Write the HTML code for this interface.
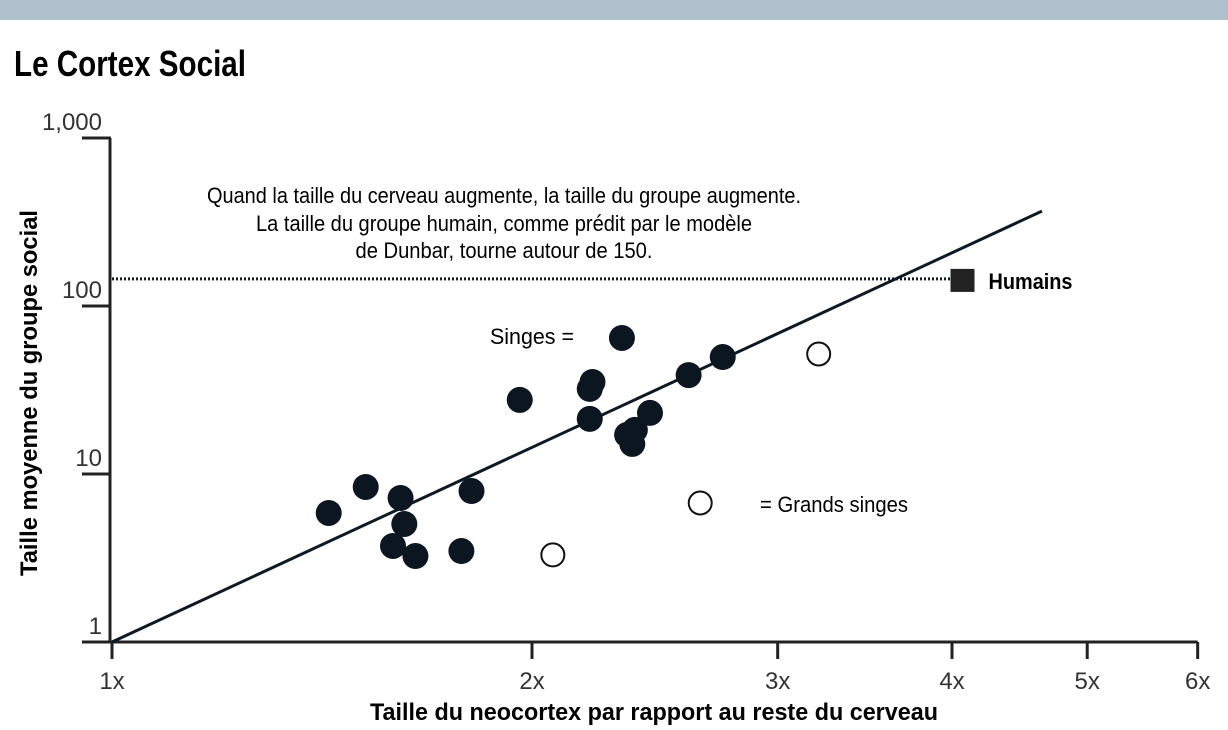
<!DOCTYPE html>
<html><head><meta charset="utf-8"><style>
body{margin:0;background:#fff;width:1228px;height:730px;overflow:hidden}
svg{display:block}
text{font-family:"Liberation Sans",sans-serif}
</style></head><body>
<svg id="chart" width="1228" height="730" viewBox="0 0 1228 730" xmlns="http://www.w3.org/2000/svg">
<rect x="0" y="0" width="1228" height="20" fill="#b0bfcc"/>
<text x="14" y="76" font-size="36" font-weight="bold" textLength="232" lengthAdjust="spacingAndGlyphs" fill="#000">Le Cortex Social</text>
<g id="annot" font-size="22" fill="#000" text-anchor="middle">
<text x="504" y="203" textLength="594" lengthAdjust="spacingAndGlyphs">Quand la taille du cerveau augmente, la taille du groupe augmente.</text>
<text x="504" y="231" textLength="496" lengthAdjust="spacingAndGlyphs">La taille du groupe humain, comme prédit par le modèle</text>
<text x="504" y="258" textLength="297" lengthAdjust="spacingAndGlyphs">de Dunbar, tourne autour de 150.</text>
</g>
<g id="axes"></g>
<g id="marks"></g>
<text x="490" y="344" font-size="22" textLength="84" lengthAdjust="spacingAndGlyphs" fill="#000">Singes =</text>
<text x="760" y="512" font-size="22" textLength="148" lengthAdjust="spacingAndGlyphs" fill="#000">= Grands singes</text>
<text x="370" y="720" font-size="24" font-weight="bold" textLength="568" lengthAdjust="spacingAndGlyphs" fill="#000">Taille du neocortex par rapport au reste du cerveau</text>
<text transform="translate(37,576) rotate(-90)" font-size="24" font-weight="bold" textLength="366" lengthAdjust="spacingAndGlyphs" fill="#000">Taille moyenne du groupe social</text>
</svg>
<script>
const xTicks=[1,2,3,4,5,6];
const xTickLabels=["1x","2x","3x","4x","5x","6x"];
const yTicks=[1,10,100,1000];
const yTickLabels=["1","10","100","1,000"];
const monkeyX=[1.43,1.52,1.61,1.62,1.59,1.65,1.78,1.81,1.96,2.20,2.21,2.20,2.32,2.34,2.37,2.36,2.43,2.59,2.74];
const monkeyY=[5.86,8.37,7.2,5.04,3.73,3.25,3.48,7.92,27.6,32.1,35.3,21.3,64.5,17.1,18.3,15.1,23.1,38.8,49.7];
const apeX=[2.07,2.64,3.21];
const apeY=[3.30,6.72,51.8];
const humanX=[4.07];
const humanY=[145];
const trendX=[1,4.64];
const trendY=[1,367];
const NS="http://www.w3.org/2000/svg";
const X0=112,XPX=420,Y0=642,YPX=168;
function xs(v){return X0+Math.log2(v)*XPX;}
function ys(v){return Y0-Math.log10(v)*YPX;}
function mk(tag,attrs,parent){const e=document.createElementNS(NS,tag);for(const k in attrs)e.setAttribute(k,attrs[k]);parent.appendChild(e);return e;}
const axes=document.getElementById('axes'),marks=document.getElementById('marks');
let e;
e=mk('line',{x1:110,y1:ys(1000),x2:110,y2:Y0,stroke:'#222','stroke-width':3},axes);


e=mk('line',{x1:82,y1:Y0,x2:xs(6),y2:Y0,stroke:'#222','stroke-width':3},axes);


yTicks.forEach((v,i)=>{
 e=mk('line',{x1:82,y1:ys(v),x2:111,y2:ys(v),stroke:'#222','stroke-width':3},axes);
 
 
 e=mk('text',{x:102,y:ys(v)-8,'text-anchor':'end','font-size':24,fill:'#333'},axes);
 e.textContent=yTickLabels[i];
 
 
});
xTicks.forEach((v,i)=>{
 e=mk('line',{x1:xs(v),y1:Y0,x2:xs(v),y2:659,stroke:'#222','stroke-width':3},axes);
 
 
 e=mk('text',{x:xs(v),y:689,'text-anchor':'middle','font-size':24,fill:'#333'},axes);
 e.textContent=xTickLabels[i];
 
 
});
e=mk('line',{x1:112,y1:ys(humanY[0]),x2:xs(humanX[0])-12,y2:ys(humanY[0]),stroke:'#0d1a24','stroke-width':3,'stroke-dasharray':'2 2'},marks);


e=mk('line',{x1:xs(trendX[0]),y1:ys(trendY[0]),x2:xs(trendX[1]),y2:ys(trendY[1]),stroke:'#0d1a24','stroke-width':3},marks);


monkeyX.forEach((v,i)=>{
 e=mk('circle',{cx:xs(v),cy:ys(monkeyY[i]),r:13,fill:'#0b1620'},marks);
 
 
});
apeX.forEach((v,i)=>{
 e=mk('circle',{cx:xs(v),cy:ys(apeY[i]),r:11.5,fill:'#fff',stroke:'#111','stroke-width':2},marks);
 
 
});
humanX.forEach((v,i)=>{
 e=mk('rect',{x:xs(v)-12,y:ys(humanY[i])-10,width:24,height:23,fill:'#222'},marks);
 
 
 e=mk('text',{x:xs(v)+26,y:ys(humanY[i])+10,'font-size':22,'font-weight':'bold',fill:'#000',textLength:84,lengthAdjust:'spacingAndGlyphs'},marks);
 e.textContent='Humains';
 
 
});
</script>
</body></html>
